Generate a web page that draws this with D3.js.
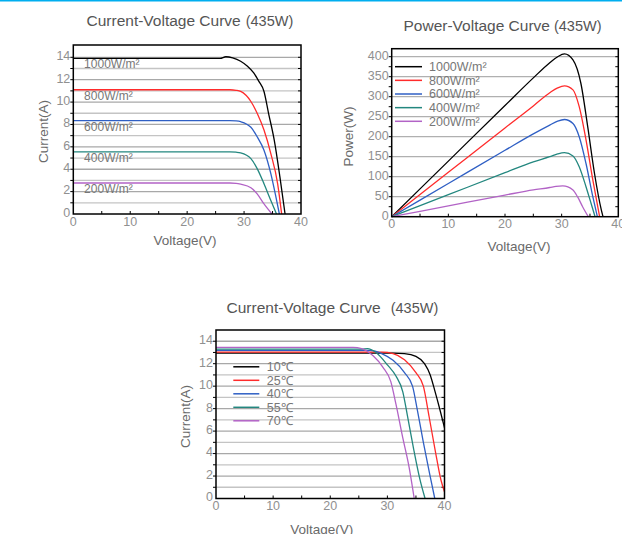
<!DOCTYPE html>
<html>
<head>
<meta charset="utf-8">
<script src="https://cdn.jsdelivr.net/npm/d3@7"></script>
<style>
  body { margin: 0; background: #fff; }
  svg { display: block; font-family: "Liberation Sans", Arial, sans-serif; }
</style>
</head>
<body>
<svg id="chart" width="622" height="534"></svg>
<script>
// ---- data ----
var IRR_LABELS = ["1000W/m\u00b2", "800W/m\u00b2", "600W/m\u00b2", "400W/m\u00b2", "200W/m\u00b2"]
var TEMP_LABELS = ["10\u2103", "25\u2103", "40\u2103", "55\u2103", "70\u2103"]
var COLORS = ["#000000", "#ff2b2b", "#2f5fc4", "#23877f", "#b263c6"]

// current vs voltage, by irradiance  [V, A]
var iv1000 = [[0,13.9],[25.8,13.9],[26.8,14.05],[28,13.95],[29.4,13.65],[30.6,13.2],[31.7,12.6],[32.6,11.85],[33.5,10.95],[34.3,9.0],[35.3,6.6],[36.3,3.3],[37.2,0]]
var iv800 = [[0,11.1],[27.5,11.1],[28.6,11.05],[29.4,10.95],[31.2,10.05],[32.3,9.0],[33.5,7.5],[34.7,5.4],[35.9,2.7],[36.6,0]]
var iv600 = [[0,8.35],[27.5,8.35],[28.6,8.32],[29.4,8.25],[31.2,7.75],[32.3,6.9],[33.5,5.7],[34.7,3.6],[35.6,1.5],[36.2,0]]
var iv400 = [[0,5.55],[27.5,5.55],[28.6,5.52],[29.4,5.46],[31.2,4.95],[32.3,4.05],[33.5,2.7],[34.7,1.2],[35.7,0]]
var iv200 = [[0,2.77],[27.5,2.77],[28.6,2.74],[29.4,2.66],[31.2,2.34],[32.3,1.8],[33.5,0.9],[34.9,0]]

// power vs voltage, by irradiance  [V, W]
var pv1000 = [[0,0],[10,139],[20,278],[25,347],[27.9,385],[29.3,400],[30.5,407],[32,392],[33.4,333],[34.6,225],[35.8,108],[37,17],[37.3,0]]
var pv800 = [[0,0],[10,111],[20,222],[25,277],[27.9,310],[29.3,322],[30.5,327],[32,317],[33.1,275],[34.3,192],[35.5,92],[36.7,0]]
var pv600 = [[0,0],[10,83],[20,166],[25,207],[27.9,229],[29.3,239],[30.5,243],[32,233],[33.1,200],[34.3,133],[35.5,50],[36.3,0]]
var pv400 = [[0,0],[10,55],[20,110],[25,137],[27.9,150],[29.3,157],[30.5,160],[32,152],[33.1,125],[34.3,75],[35.2,33],[35.9,0]]
var pv200 = [[0,0],[10,27],[20,54],[25,67],[27.9,73],[29,76],[30.2,77],[32,67],[32.8,50],[33.7,25],[34.7,0]]

// current vs voltage, by cell temperature  [V, A]
var iv10c = [[0,12.95],[31,12.95],[33,12.9],[35,12.65],[36.5,12.0],[37.5,11.0],[38.3,9.6],[39.2,7.9],[40,6.3]]
var iv25c = [[0,13.03],[29,13.03],[31,12.9],[33,12.35],[35,11.2],[36.3,10.0],[37.3,7.3],[38.4,4.2],[39.4,1.6],[40,0.6]]
var iv40c = [[0,13.18],[27,13.18],[29,12.9],[31,12.3],[33,11.2],[34.4,10.0],[35.2,8.0],[36.3,5.0],[37.4,2.2],[38.3,0]]
var iv55c = [[0,13.3],[25.5,13.3],[26.5,13.34],[28,13.0],[30,11.9],[31.5,10.9],[32.7,9.5],[33.5,7.4],[34.6,4.4],[35.7,1.7],[36.6,0]]
var iv70c = [[0,13.45],[24,13.45],[25.5,13.35],[27.5,12.7],[29.2,11.7],[30.6,10.4],[31.5,8.4],[32.7,5.4],[33.8,2.8],[34.7,0]]

var X_TICKS = [0, 10, 20, 30, 40]
var I_TICKS = [0, 2, 4, 6, 8, 10, 12, 14]
var P_TICKS = [0, 50, 100, 150, 200, 250, 300, 350, 400]

var svg = d3.select("#chart")

// thin cyan rule across the top
svg.append("rect").attr("x", 0).attr("y", 0).attr("width", 622).attr("height", 1.5).attr("fill", "#00aeef")

// draws frame, grid, ticks and labels of one panel
function panel(o){
  var g = svg.append("g")
  var x = d3.scaleLinear().domain([0, 40]).range([o.left, o.right])
  var y = d3.scaleLinear().domain([0, o.ymax]).range([o.bottom, o.top])

  // horizontal grid
  g.selectAll(".grid").data(o.grid).enter().append("line")
    .attr("x1", o.left).attr("x2", o.right)
    .attr("y1", function(d){ return y(d) }).attr("y2", function(d){ return y(d) })
    .style("stroke", function(d, i){ return o.gridColor(d) })
    .style("stroke-width", 1.3)

  // minor ticks on left (out) and right (in)
  g.selectAll(".lt").data(o.minor).enter().append("line")
    .attr("x1", o.left - 3).attr("x2", o.left)
    .attr("y1", function(d){ return y(d) }).attr("y2", function(d){ return y(d) })
    .style("stroke", "#000").style("stroke-width", 1)
  g.selectAll(".rt").data(o.minor).enter().append("line")
    .attr("x1", o.right - 3).attr("x2", o.right)
    .attr("y1", function(d){ return y(d) }).attr("y2", function(d){ return y(d) })
    .style("stroke", "#000").style("stroke-width", 1)
  // bottom ticks every 5 V, pointing up
  g.selectAll(".bt").data(d3.range(5, 40, 5)).enter().append("line")
    .attr("x1", function(d){ return x(d) }).attr("x2", function(d){ return x(d) })
    .attr("y1", o.bottom).attr("y2", o.bottom - 3)
    .style("stroke", "#000").style("stroke-width", 1)

  // curves
  var line = d3.line()
    .x(function(d){ return x(d[0]) })
    .y(function(d){ return y(d[1]) })
    .curve(d3.curveMonotoneX)
  g.selectAll(".curve").data(o.series).enter().append("path")
    .attr("d", function(d){ return line(d) })
    .style("fill", "none")
    .style("stroke", function(d, i){ return COLORS[i] })
    .style("stroke-width", 1.3)

  // frame
  g.append("rect")
    .attr("x", o.left).attr("y", o.top)
    .attr("width", o.right - o.left).attr("height", o.bottom - o.top)
    .style("fill", "none").style("stroke", "#000").style("stroke-width", 1.5)

  // tick labels
  g.selectAll(".xl").data(X_TICKS).enter().append("text")
    .attr("x", function(d){ return x(d) }).attr("y", o.bottom + 11.5)
    .attr("text-anchor", "middle")
    .style("font-size", "12.5px").style("fill", "#909090")
    .text(function(d){ return d })
  g.selectAll(".yl").data(o.yticks).enter().append("text")
    .attr("x", o.left - 3).attr("y", function(d){ return y(d) - 1.5 })
    .attr("dy", "0.35em")
    .attr("text-anchor", "end")
    .style("font-size", "12.5px").style("fill", "#909090")
    .text(function(d){ return d })

  // titles
  var t = g.append("text").attr("x", o.titleX).attr("y", o.titleY)
    .style("fill", "#555").style("font-size", "15.5px")
  t.append("tspan").text(o.title)
  t.append("tspan").attr("dx", o.titleGap).style("font-size", "14.5px").text("(435W)")

  g.append("text")
    .attr("transform", "translate(" + o.yLabelX + "," + o.yLabelY + ") rotate(-90)")
    .attr("text-anchor", "middle").attr("dy", "0.35em")
    .style("fill", "#6a6a6a").style("font-size", "13.5px")
    .text(o.yLabel)
  g.append("text")
    .attr("x", o.xLabelX).attr("y", o.xLabelY)
    .attr("text-anchor", "middle")
    .style("fill", "#6a6a6a").style("font-size", "13.5px")
    .text("Voltage(V)")

  return {g: g, x: x, y: y}
}

// ---- panel 1: I-V by irradiance ----
var ivSeries = [iv1000, iv800, iv600, iv400, iv200]
var p1 = panel({
  left: 73.3, right: 301, top: 45, bottom: 214, ymax: 15.1,
  grid: d3.range(1, 15), minor: d3.range(1, 15),
  gridColor: function(d){ return d % 2 == 0 ? "#a8a8a8" : "#c4c4c4" },
  yticks: I_TICKS, series: ivSeries,
  title: "Current-Voltage Curve", titleX: 86.5, titleY: 26, titleGap: 5,
  yLabel: "Current(A)", yLabelX: 43.5, yLabelY: 131.5,
  xLabelX: 185, xLabelY: 245
})
p1.g.selectAll(".cl").data(ivSeries).enter().append("text")
  .attr("x", p1.x(1.9))
  .attr("y", function(d){ return p1.y(d[0][1]) + 10 })
  .style("font-size", "12px").style("fill", "#777")
  .text(function(d, i){ return IRR_LABELS[i] })

// ---- panel 2: P-V by irradiance ----
var p2 = panel({
  left: 391.7, right: 618.3, top: 48.7, bottom: 216.7, ymax: 420,
  grid: d3.range(50, 401, 50), minor: d3.range(25, 420, 25),
  gridColor: function(d){ return "#b0b0b0" },
  yticks: P_TICKS, series: [pv1000, pv800, pv600, pv400, pv200],
  title: "Power-Voltage Curve", titleX: 403.5, titleY: 30.5, titleGap: 4,
  yLabel: "Power(W)", yLabelX: 348.5, yLabelY: 136.5,
  xLabelX: 519, xLabelY: 251
})
var leg2 = p2.g.selectAll(".lg").data(IRR_LABELS).enter().append("g")
  .attr("transform", function(d, i){ return "translate(395," + (66.7 + i * 13.65) + ")" })
leg2.append("line").attr("x1", 0).attr("x2", 27)
  .style("stroke", function(d, i){ return COLORS[i] }).style("stroke-width", 1.5)
leg2.append("text").attr("x", 34).attr("dy", "0.35em")
  .style("font-size", "12.5px").style("fill", "#777")
  .text(function(d){ return d })

// ---- panel 3: I-V by temperature ----
var p3 = panel({
  left: 216, right: 444.5, top: 330, bottom: 498.5, ymax: 15,
  grid: d3.range(1, 15), minor: d3.range(1, 15),
  gridColor: function(d){ return d % 2 == 0 ? "#a8a8a8" : "#c4c4c4" },
  yticks: I_TICKS, series: [iv10c, iv25c, iv40c, iv55c, iv70c],
  title: "Current-Voltage Curve", titleX: 226.5, titleY: 312.5, titleGap: 10,
  yLabel: "Current(A)", yLabelX: 185, yLabelY: 416.5,
  xLabelX: 321.7, xLabelY: 533.5
})
var leg3 = p3.g.selectAll(".lg").data(TEMP_LABELS).enter().append("g")
  .attr("transform", function(d, i){ return "translate(233.3," + (366.8 + i * 13.5) + ")" })
leg3.append("line").attr("x1", 0).attr("x2", 26)
  .style("stroke", function(d, i){ return COLORS[i] }).style("stroke-width", 1.5)
leg3.append("text").attr("x", 33.5).attr("dy", "0.35em")
  .style("font-size", "12.5px").style("fill", "#777")
  .text(function(d){ return d })
</script>
</body>
</html>
